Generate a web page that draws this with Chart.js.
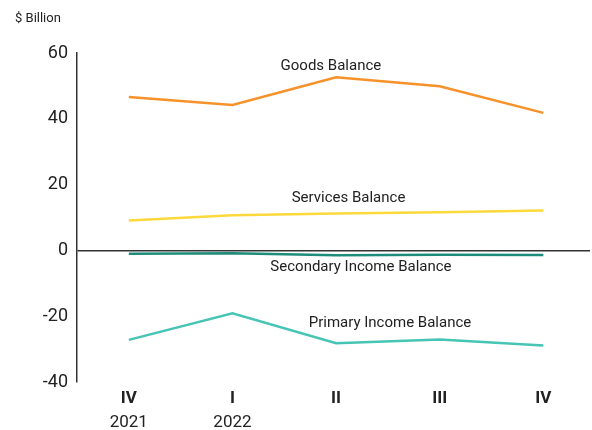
<!DOCTYPE html>
<html>
<head>
<meta charset="utf-8">
<script src="https://cdn.jsdelivr.net/npm/chart.js@4/dist/chart.umd.min.js"></script>
<style>
  html, body { margin: 0; padding: 0; background: #fff; }
  #wrap { width: 592px; height: 430px; position: relative; }
</style>
</head>
<body>
<div id="wrap"><canvas id="chart"></canvas></div>
<script>
const quarters = ["IV", "I", "II", "III", "IV"];
const years = ["2021", "2022", "", "", ""];

const goods = [46.6, 44.2, 52.6, 49.9, 41.8];
const services = [9.1, 10.7, 11.2, 11.6, 12.1];
const secondary = [-1.0, -0.9, -1.5, -1.3, -1.4];
const primary = [-27.2, -19.1, -28.2, -27.1, -28.9];

const yTicks = [-40, -20, 0, 20, 40, 60];

// where the series names sit, in data units
const seriesLabels = [
  { text: "Goods Balance", x: 1.95, y: 55.9 },
  { text: "Services Balance", x: 2.12, y: 15.8 },
  { text: "Secondary Income Balance", x: 2.24, y: -5.0 },
  { text: "Primary Income Balance", x: 2.52, y: -22.0 }
];

const FONT = "Roboto, 'DejaVu Sans', sans-serif";
const INK = "#222";

function pts(arr) {
  return arr.map((v, i) => ({ x: i, y: v }));
}

const labelPlugin = {
  id: "labels",
  afterDraw(chart) {
    const ctx = chart.ctx;
    const xs = chart.scales.x, ys = chart.scales.y;
    ctx.save();
    ctx.fillStyle = INK;
    ctx.font = "15px " + FONT;
    ctx.textAlign = "center";
    ctx.textBaseline = "middle";
    seriesLabels.forEach(l => {
      ctx.fillText(l.text, xs.getPixelForValue(l.x), ys.getPixelForValue(l.y));
    });
    ctx.textAlign = "left";
    ctx.font = "13px " + FONT;
    ctx.fillText("$ Billion", 15, 19);
    ctx.restore();
  }
};

new Chart(document.getElementById("chart"), {
  type: "line",
  data: {
    datasets: [
      { data: pts(goods), borderColor: "#F7922A" },
      { data: pts(services), borderColor: "#FDD93C" },
      { data: pts(secondary), borderColor: "#1E8C7A" },
      { data: pts(primary), borderColor: "#46C4B4" }
    ]
  },
  options: {
    responsive: true,
    maintainAspectRatio: false,
    animation: false,
    layout: { padding: { top: 53, left: 10, right: 2, bottom: 0 } },
    elements: {
      line: { borderWidth: 2.5, tension: 0 },
      point: { radius: 0 }
    },
    plugins: {
      legend: { display: false },
      tooltip: { enabled: false }
    },
    scales: {
      x: {
        type: "linear",
        position: "bottom",
        min: -0.5,
        max: 4.45,
        grid: { display: false, drawTicks: false },
        border: { display: false },
        afterBuildTicks: axis => { axis.ticks = quarters.map((q, i) => ({ value: i })); },
        afterFit: axis => { axis.height = 27; },
        ticks: {
          padding: 7,
          color: INK,
          maxRotation: 0,
          font: { family: FONT, size: 17, weight: "bold" },
          callback: (v, i) => quarters[i]
        }
      },
      x2: {
        type: "linear",
        position: "bottom",
        min: -0.5,
        max: 4.45,
        grid: { display: false, drawTicks: false },
        border: { display: false },
        afterBuildTicks: axis => { axis.ticks = years.map((q, i) => ({ value: i })); },
        afterFit: axis => { axis.height = 21; },
        ticks: {
          padding: 4,
          color: INK,
          maxRotation: 0,
          font: { family: FONT, size: 17 },
          callback: (v, i) => years[i]
        }
      },
      y: {
        min: -40,
        max: 60,
        afterBuildTicks: axis => { axis.ticks = yTicks.map(v => ({ value: v })); },
        afterFit: axis => { axis.width = 67; },
        border: { display: true, color: "#333", width: 1.5 },
        grid: {
          drawTicks: false,
          color: c => (c.tick && c.tick.value === 0) ? "#333" : "transparent",
          lineWidth: 1.5
        },
        ticks: {
          padding: 9,
          color: INK,
          font: { family: FONT, size: 18 }
        }
      }
    }
  },
  plugins: [labelPlugin]
});
</script>
</body>
</html>
